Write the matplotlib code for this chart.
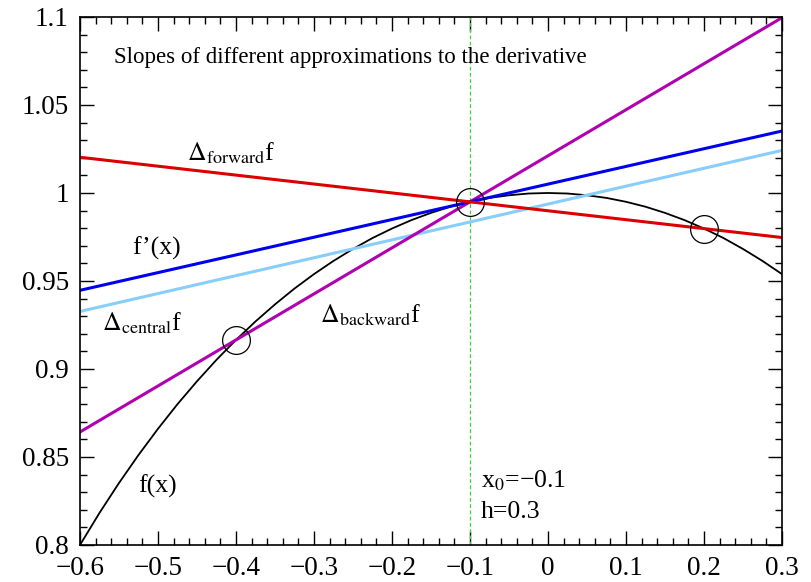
import numpy as np
import matplotlib
matplotlib.use("Agg")
from matplotlib import pyplot as plt
from matplotlib.ticker import MultipleLocator

plt.rcParams['font.family'] = ['Liberation Serif', 'DejaVu Serif']
plt.rcParams['mathtext.fontset'] = 'stix'

# f(x)
fx = [-0.600, -0.575, -0.550, -0.525, -0.500, -0.475, -0.450, -0.425, -0.400,
      -0.375, -0.350, -0.325, -0.300, -0.275, -0.250, -0.225, -0.200, -0.175,
      -0.150, -0.125, -0.100, -0.075, -0.050, -0.025, 0.000, 0.025, 0.050,
      0.075, 0.100, 0.125, 0.150, 0.175, 0.200, 0.225, 0.250, 0.275, 0.300]
fy = [0.8000, 0.8182, 0.8352, 0.8511, 0.8660, 0.8800, 0.8930, 0.9052, 0.9165,
      0.9270, 0.9367, 0.9457, 0.9539, 0.9614, 0.9682, 0.9744, 0.9798, 0.9846,
      0.9887, 0.9922, 0.9950, 0.9972, 0.9987, 0.9997, 1.0000, 0.9997, 0.9987,
      0.9972, 0.9950, 0.9922, 0.9887, 0.9846, 0.9798, 0.9744, 0.9682, 0.9614,
      0.9539]

# straight lines, values at the two ends x=-0.6 and x=0.3
line_x = [-0.6, 0.3]
forward_y = [1.0203, 0.9747]
deriv_y = [0.9447, 1.0352]
central_y = [0.9327, 1.0242]
backward_y = [0.8642, 1.0996]

# sample points (circles)
pts_x = [-0.4, -0.1, 0.2]
pts_y = [0.9165, 0.9950, 0.9798]
x0 = -0.1

fig = plt.figure(figsize=(8.11, 5.82), dpi=100)
ax = fig.add_axes([0.0986, 0.0636, 0.8656, 0.9072])

ax.axvline(x0, color='#44cc44', lw=0.9, ls=(0, (3, 2)))
ax.plot(fx, fy, color='black', lw=1.3)
ax.plot(line_x, central_y, color='#87cefa', lw=2.2)
ax.plot(line_x, backward_y, color='#b000b0', lw=2.2)
ax.plot(line_x, deriv_y, color='#0000ee', lw=2.2)
ax.plot(line_x, forward_y, color='#dd0000', lw=2.2)
ax.plot(pts_x, pts_y, 'o', ms=20, mfc='none', mec='black', mew=0.9)

ax.set_xlim(-0.6, 0.3)
ax.set_ylim(0.8, 1.1)
ax.xaxis.set_major_locator(MultipleLocator(0.1))
ax.xaxis.set_minor_locator(MultipleLocator(0.02))
ax.yaxis.set_major_locator(MultipleLocator(0.05))
ax.yaxis.set_minor_locator(MultipleLocator(0.01))
ax.set_xticks(np.arange(-0.6, 0.31, 0.1))
ax.set_xticklabels(['\u22120.6', '\u22120.5', '\u22120.4', '\u22120.3', '\u22120.2',
                    '\u22120.1', '0', '0.1', '0.2', '0.3'])
ax.set_yticks([0.8, 0.85, 0.9, 0.95, 1.0, 1.05, 1.1])
ax.set_yticklabels(['0.8', '0.85', '0.9', '0.95', '1', '1.05', '1.1'])
ax.tick_params(which='both', direction='in', top=True, right=True, labelsize=19.5)
ax.tick_params(which='major', length=10, width=1)
ax.tick_params(which='minor', length=5, width=1)
ax.tick_params(axis='x', pad=8)
ax.tick_params(axis='y', pad=8)
for s in ax.spines.values():
    s.set_linewidth(1.2)

fs = 18.5
ax.text(-0.556, 1.077, 'Slopes of different approximations to the derivative',
        fontsize=16.5, va='center')
ax.text(-0.463, 1.0188, r'$\Delta_{\mathrm{forward}}$f', fontsize=fs, va='baseline')
ax.text(-0.533, 0.9648, 'f\u2019(x)', fontsize=fs, va='baseline')
ax.text(-0.572, 0.922, r'$\Delta_{\mathrm{central}}$f', fontsize=fs, va='baseline')
ax.text(-0.292, 0.9267, r'$\Delta_{\mathrm{backward}}$f', fontsize=fs, va='baseline')
ax.text(-0.526, 0.8295, 'f(x)', fontsize=fs, va='baseline')
ax.text(-0.086, 0.833, 'x$_0$=\u22120.1', fontsize=fs, va='baseline')
ax.text(-0.086, 0.8153, 'h=0.3', fontsize=fs, va='baseline')

fig.savefig('out.png', dpi=100)
